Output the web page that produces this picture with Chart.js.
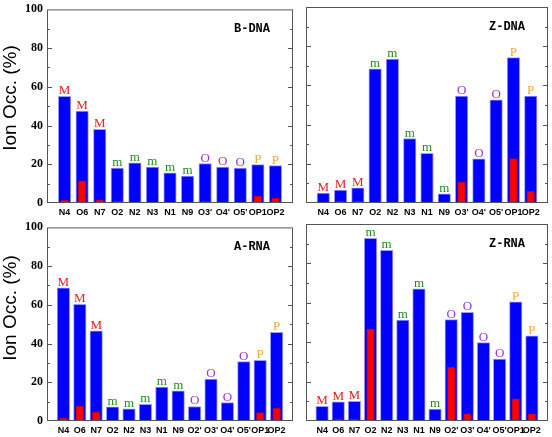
<!DOCTYPE html>
<html>
<head>
<meta charset="utf-8">
<script src="https://cdn.jsdelivr.net/npm/chart.js@4.4.0/dist/chart.umd.min.js"></script>
<style>
    body { margin: 0; background: #fff; }
    canvas { position: absolute; }
</style>
</head>
<body>
<canvas id="bdnaChart" width="300" height="218" style="left:0;top:0"></canvas>
<canvas id="zdnaChart" width="252" height="218" style="left:300px;top:0"></canvas>
<canvas id="arnaChart" width="300" height="219" style="left:0;top:218px"></canvas>
<canvas id="zrnaChart" width="252" height="219" style="left:300px;top:218px"></canvas>
<script>
// Binding sites (x axis)
const sitesDNA = ['N4', 'O6', 'N7', 'O2', 'N2', 'N3', 'N1', 'N9', "O3'", "O4'", "O5'", 'OP1', 'OP2'];
const sitesRNA = ['N4', 'O6', 'N7', 'O2', 'N2', 'N3', 'N1', 'N9', "O2'", "O3'", "O4'", "O5'", 'OP1', 'OP2'];
// Site class letters drawn over the bars
const marksDNA = ['M', 'M', 'M', 'm', 'm', 'm', 'm', 'm', 'O', 'O', 'O', 'P', 'P'];
const marksRNA = ['M', 'M', 'M', 'm', 'm', 'm', 'm', 'm', 'O', 'O', 'O', 'O', 'P', 'P'];

// Ion occupancy (%) - blue = total, red = direct
const bdnaTotal = [55.1, 47.5, 38.1, 18.1, 20.7, 18.5, 15.6, 13.9, 20.3, 18.5, 18.1, 19.8, 19.3];
const bdnaDirect = [1.5, 11.5, 1.5, 0.8, 0, 0, 0, 0, 0.8, 0, 0, 3.4, 2.4];
const zdnaTotal = [5.1, 6.6, 7.8, 68.5, 73.4, 32.9, 25.4, 4.7, 54.6, 22.5, 52.7, 74.2, 54.6];
const zdnaDirect = [0, 0.8, 0.8, 0.3, 0, 0, 0, 0, 10.7, 0, 0.5, 22.7, 5.9];
const arnaTotal = [68.8, 60.3, 46.6, 7.3, 6.3, 8.6, 17.5, 15.6, 7.5, 21.7, 9.5, 30.7, 31.4, 45.8];
const arnaDirect = [1.5, 7.6, 4.6, 0, 0, 0, 0, 0, 0.5, 0.5, 0, 0.3, 4.4, 6.6];
const zrnaTotal = [7.5, 9.7, 10.0, 92.7, 86.6, 51.2, 67.1, 6.1, 51.5, 55.1, 39.8, 31.4, 60.5, 43.2];
const zrnaDirect = [0, 1, 1, 46.8, 0.3, 0, 0, 0, 27.3, 3.6, 0, 0.3, 11.2, 3.6];

const yTicks = [0, 20, 40, 60, 80, 100];

const markColors = { M: '#e8201c', m: '#1f8c1f', O: '#9a32cd', P: '#f5a733' };

const init = () => {
    // Frame, mirrored ticks, letters, panel name, y title
    const panelDecor = {
        id: 'panelDecor',
        afterDatasetsDraw(chart, args, opts) {
            const ctx = chart.ctx;
            const { left, right, top, bottom } = chart.chartArea;
            const y = chart.scales.y;
            ctx.save();
            ctx.strokeStyle = '#555';
            ctx.lineWidth = 1;
            ctx.strokeRect(left + 0.5, top + 0.5, right - left - 1, bottom - top - 1);

            ctx.beginPath();
            for (let v = 10; v < 100; v += 10) {
                const py = Math.round(y.getPixelForValue(v)) + 0.5;
                const len = v % 20 === 0 ? 5 : 3;
                ctx.moveTo(left, py);
                ctx.lineTo(left + len, py);
                ctx.moveTo(right, py);
                ctx.lineTo(right - len, py);
            }
            ctx.stroke();

            // class letters
            const meta = chart.getDatasetMeta(1);
            ctx.font = '13px "Liberation Serif"';
            ctx.textAlign = 'center';
            ctx.textBaseline = 'alphabetic';
            opts.marks.forEach((m, i) => {
                const bar = meta.data[i + 1];
                ctx.fillStyle = markColors[m];
                ctx.fillText(m, bar.x, bar.y - 2);
            });

            ctx.fillStyle = '#000';
            ctx.font = 'bold 12px "Liberation Mono"';
            ctx.textAlign = 'right';
            ctx.textBaseline = 'middle';
            ctx.fillText(opts.name, right - 23, top + 20);

            if (opts.titleY) {
                ctx.translate(11, opts.titleY);
                ctx.rotate(-Math.PI / 2);
                ctx.font = '19px "Liberation Sans"';
                ctx.textAlign = 'center';
                ctx.fillText('Ion Occ. (%)', 0, 0);
            }
            ctx.restore();
        }
    };

    const makePanel = (id, sites, marks, total, direct, name, showY, padding, xHeight, titleY) => {
        const pad = arr => [null, ...arr, null];
        new Chart(document.getElementById(id), {
            type: 'bar',
            data: {
                labels: ['', ...sites, ''],
                datasets: [{
                    data: pad(direct),
                    backgroundColor: '#ff0000',
                    borderColor: '#c40000',
                    borderWidth: 1,
                    barThickness: 7.5,
                    grouped: false
                }, {
                    data: pad(total),
                    backgroundColor: '#0000ff',
                    borderColor: '#9a9aff',
                    borderWidth: 1,
                    barThickness: 12.5,
                    grouped: false
                }]
            },
            options: {
                responsive: false,
                animation: false,
                layout: { padding },
                plugins: {
                    legend: { display: false },
                    tooltip: { enabled: false },
                    panelDecor: { name, marks, titleY }
                },
                scales: {
                    x: {
                        offset: false,
                        grid: { display: false, drawTicks: false },
                        border: { display: false },
                        ticks: {
                            autoSkip: false,
                            maxRotation: 0,
                            padding: 4,
                            color: '#000',
                            font: { family: '"Liberation Sans"', size: 9, weight: 'bold' }
                        },
                        afterFit: s => { s.height = xHeight; }
                    },
                    y: {
                        min: 0,
                        max: 100,
                        grid: { display: false, drawTicks: false },
                        border: { display: false },
                        afterBuildTicks: s => { s.ticks = yTicks.map(v => ({ value: v })); },
                        ticks: {
                            display: showY,
                            padding: 4,
                            color: '#000',
                            font: { family: '"Liberation Serif"', size: 12, weight: 'bold', lineHeight: 0.9 }
                        },
                        afterFit: s => { s.width = showY ? 47 : 0; }
                    }
                }
            },
            plugins: [panelDecor]
        });
    };

    // Initialize panels
    makePanel('bdnaChart', sitesDNA, marksDNA, bdnaTotal, bdnaDirect, 'B-DNA', true,
        { top: 7, right: 7, left: 0, bottom: 0 }, 15, 98);
    makePanel('zdnaChart', sitesDNA, marksDNA, zdnaTotal, zdnaDirect, 'Z-DNA', false,
        { top: 7, right: 2, left: 6, bottom: 0 }, 15, null);
    makePanel('arnaChart', sitesRNA, marksRNA, arnaTotal, arnaDirect, 'A-RNA', true,
        { top: 6, right: 7, left: 0, bottom: 0 }, 16, 90);
    makePanel('zrnaChart', sitesRNA, marksRNA, zrnaTotal, zrnaDirect, 'Z-RNA', false,
        { top: 6, right: 2, left: 6, bottom: 0 }, 16, null);
};

document.addEventListener('DOMContentLoaded', () => {
    const fonts = ['bold 12px "Liberation Serif"', '13px "Liberation Serif"', 'bold 12px "Liberation Mono"',
        '19px "Liberation Sans"', 'bold 9px "Liberation Sans"'];
    Promise.all(fonts.map(f => document.fonts.load(f))).then(init, init);
});
</script>
</body>
</html>
